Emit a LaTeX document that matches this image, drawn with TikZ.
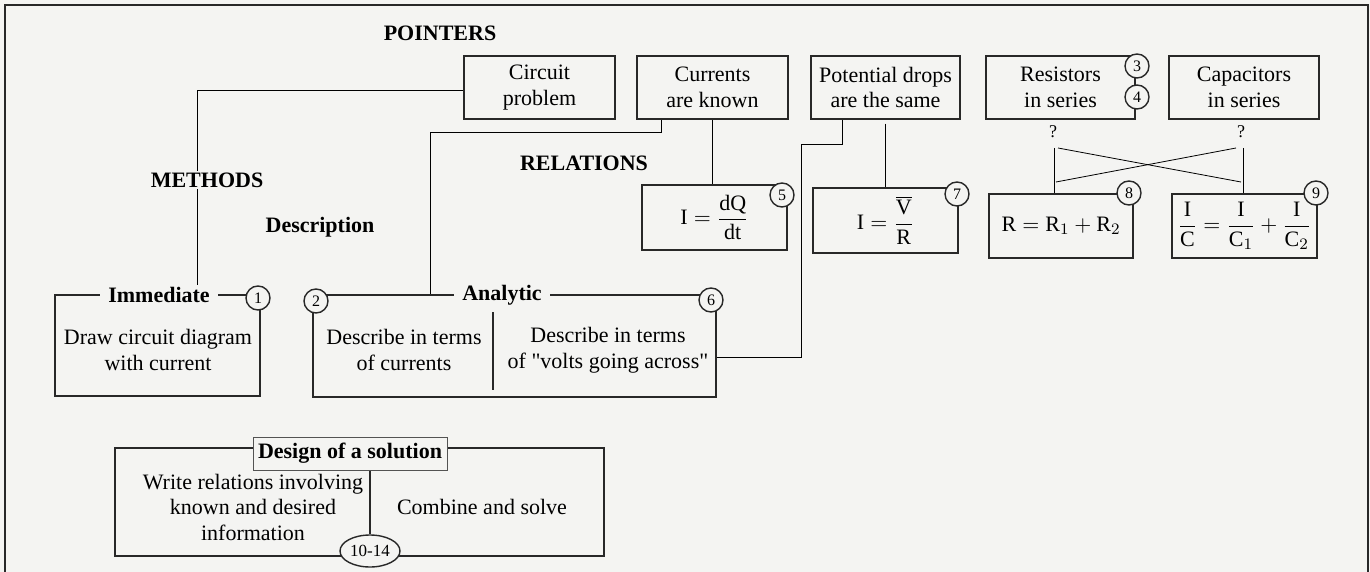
\documentclass[tikz,border=0pt]{standalone}
\usepackage{fontspec}
\setmainfont{Liberation Serif}[Ligatures=TeXOff]
\usepackage{tikz}
\usetikzlibrary{shapes.geometric, backgrounds, calc}

\definecolor{paper}{RGB}{244,244,242}
\definecolor{ink}{RGB}{40,40,40}

\def\tikframe{%
    \begin{pgfonlayer}{background}
        \fill[paper] (0,0) rectangle (1370,572);
    \end{pgfonlayer}
    % border
    \draw[ink, line width=0.75pt] (5,572) -- (5,5) -- (1368,5) -- (1368,572);
}

\tikzset{
    every node/.style={font=\fontsize{11}{12.75}\selectfont},
    pbox/.style={draw=ink, fill=paper, line width=0.75pt, align=center, inner sep=0pt, minimum height=31.5pt},
    rbox/.style={draw=ink, fill=paper, line width=0.75pt, inner sep=0pt, minimum width=72.5pt, minimum height=32.5pt},
    groupbox/.style={draw=ink, line width=0.75pt, inner sep=0pt},
    txt/.style={align=center, inner sep=0pt},
    heading/.style={font=\bfseries\fontsize{11}{12.75}\selectfont, fill=paper, inner xsep=4pt, inner ysep=1pt},
    numcirc/.style={circle, draw=ink, fill=paper, line width=0.7pt, inner sep=0pt, minimum size=12pt, font=\fontsize{8}{9}\selectfont},
    link/.style={ink, line width=0.75pt}
}

\begin{document}
\begin{tikzpicture}[x=0.5pt, y=-0.5pt]
    \useasboundingbox (0,0) rectangle (1370,572);
    \tikframe

    % pointers
    \node[pbox, minimum width=75.5pt] (circuit) at (539.5,87.5) {Circuit\\problem};
    \node[pbox, minimum width=75.5pt] (currents) at (712.5,87.5) {Currents\\are known};
    \node[pbox, minimum width=74.5pt] (potential) at (885.5,87.5) {Potential drops\\are the same};
    \node[pbox, minimum width=74.5pt] (resistors) at (1060.5,87.5) {Resistors\\in series};
    \node[pbox, minimum width=75pt] (capacitors) at (1244,87.5) {Capacitors\\in series};

    % relations
    \node[rbox] (dqdt) at (714.5,217.5)
        {\raisebox{-4pt}{$\mathrm{I}=\displaystyle\frac{\mathrm{dQ}}{\mathrm{dt}}$}};
    \node[rbox] (ivr) at (885.5,220.5)
        {\raisebox{-2pt}{$\mathrm{I}=\displaystyle\frac{\overline{\mathrm{V}}}{\mathrm{R}}$}};
    \node[rbox, minimum width=72pt, minimum height=32pt] (rsum) at (1061,226)
        {$\mathrm{R}=\mathrm{R}_1+\mathrm{R}_2$};
    \node[rbox, minimum height=32pt] (csum) at (1244.5,226)
        {$\displaystyle\frac{\mathrm{I}}{\mathrm{C}}=\frac{\mathrm{I}}{\mathrm{C}_1}+\frac{\mathrm{I}}{\mathrm{C}_2}$};

    % methods
    \node[groupbox, minimum width=102.5pt, minimum height=50.5pt] (imbox) at (157.5,345.5) {};
    \node[txt] (imtxt) at (158,350) {Draw circuit diagram\\with current};
    \node[groupbox, minimum width=201.5pt, minimum height=51pt] (anbox) at (514.5,346) {};
    \node[txt] (ancur) at (404,350) {Describe in terms\\of currents};
    \node[txt] (anvolt) at (608,350) {Describe in terms\\of "volts going across"};
    \draw[link] (493,312) -- (493,390);
    \node[groupbox, minimum width=244.5pt, minimum height=54pt] (dsbox) at (359.5,502) {};
    \node[txt] (dswrite) at (253,507) {Write relations involving\\known and desired\\information};
    \node[txt] (dssolve) at (482,507) {Combine and solve};

    % headings
    \node[heading] (pointers) at (440,33) {POINTERS};
    \node[heading] (methods) at (207,180) {METHODS};
    \node[heading] (relations) at (584,163) {RELATIONS};
    \node[heading] (description) at (320,227) {Description};
    \node[heading] (imlabel) at (159,295) {Immediate};
    \node[heading] (anlabel) at (502,295) {Analytic};
    \node[heading, draw=ink!80, line width=0.5pt, inner sep=0pt, minimum width=97pt, minimum height=16.5pt]
        (dslabel) at (350,453.5) {Design of a solution};

    % question marks
    \node[font=\fontsize{9}{10}\selectfont] (qres) at (1053,132) {?};
    \node[font=\fontsize{9}{10}\selectfont] (qcap) at (1241,132) {?};

    % numbers
    \foreach \name/\x/\y/\num in {
        n1/258/298/1,
        n2/316/301/2,
        n3/1137/66/3,
        n4/1137/97/4,
        n5/782/195/5,
        n6/711/300/6,
        n7/957/194/7,
        n8/1129/193/8,
        n9/1316/193/9}{
        \node[numcirc] (\name) at (\x,\y) {\num};
    }
    \node[ellipse, draw=ink, fill=paper, line width=0.7pt, inner sep=0pt, minimum width=30pt, minimum height=16pt,
        font=\fontsize{8.5}{9}\selectfont] (n1014) at (370,551) {10-14};
    \draw[link] (n1014.north |- dslabel.south) -- (n1014.north);

    % connectors
    \coordinate (rtop) at (1054,148);
    \coordinate (rbot) at (1054,182);
    \coordinate (ctop) at (1243,148);
    \coordinate (cbot) at (1243,182);
    \begin{scope}[on background layer, link]
        \draw ([yshift=-1.25pt]circuit.west) -| ([xshift=19pt]imlabel.north);
        \draw ([xshift=12.5pt]currents.south west) -- ++(0,13) -| ([xshift=59pt]anbox.north west);
        \draw (currents.south) -- (currents.south |- dqdt.north);
        \draw ([xshift=16pt]potential.south west) -- ++(0,25) -- ++(-41,0) |- ([yshift=-5.5pt]anbox.east);
        \draw ([yshift=-2pt]potential.south) -- (ivr.north);
        \draw (rtop) -- (rtop |- rsum.north);
        \draw (ctop) -- (ctop |- csum.north);
        \draw ([xshift=2pt]rtop) -- ([xshift=-1pt]cbot);
        \draw ([xshift=1pt]rbot) -- ([xshift=-3.5pt]ctop);
    \end{scope}
\end{tikzpicture}
\end{document}
